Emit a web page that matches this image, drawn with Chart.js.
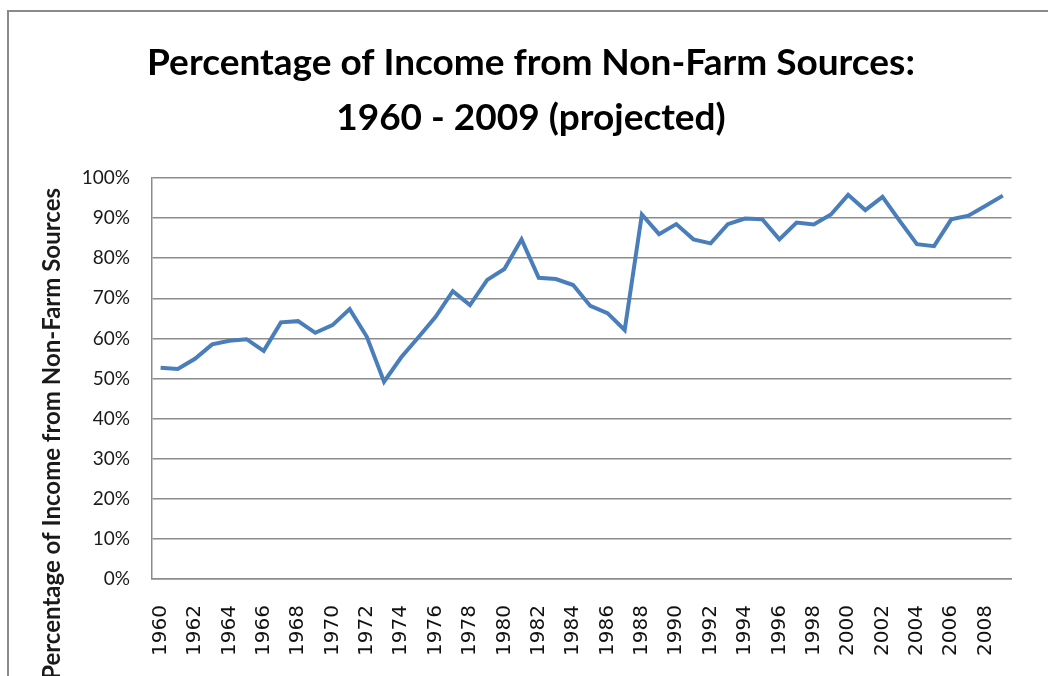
<!DOCTYPE html>
<html>
<head>
<meta charset="utf-8">
<script src="https://cdn.jsdelivr.net/npm/chart.js@4.4.0/dist/chart.umd.min.js"></script>
<style>
  html, body { margin: 0; padding: 0; background: #fff; overflow: hidden; width: 1048px; height: 676px; }
  #frame { position: absolute; left: 7px; top: 10px; width: 1044px; height: 680px; border: 2px solid #8a8a8a; }
  #chart { display: block; }
</style>
</head>
<body>
<div id="frame"><canvas id="chart" width="1044" height="680"></canvas></div>
<script>
// years on the x axis (only every other one gets a label)
const years = ['1960', '1961', '1962', '1963', '1964', '1965', '1966', '1967', '1968', '1969',
  '1970', '1971', '1972', '1973', '1974', '1975', '1976', '1977', '1978', '1979',
  '1980', '1981', '1982', '1983', '1984', '1985', '1986', '1987', '1988', '1989',
  '1990', '1991', '1992', '1993', '1994', '1995', '1996', '1997', '1998', '1999',
  '2000', '2001', '2002', '2003', '2004', '2005', '2006', '2007', '2008', '2009'];

// % of income from non-farm sources
const nonFarmPct = [52.7, 52.4, 54.9, 58.5, 59.4, 59.8, 56.9, 64.0, 64.3, 61.4,
  63.3, 67.3, 60.4, 49.2, 55.3, 60.3, 65.4, 71.8, 68.3, 74.6,
  77.3, 84.7, 75.1, 74.8, 73.3, 68.1, 66.3, 62.1, 90.9, 86.0,
  88.5, 84.7, 83.7, 88.5, 89.9, 89.7, 84.7, 88.9, 88.4, 90.9,
  95.8, 92.0, 95.3, 89.3, 83.5, 83.0, 89.7, 90.6, 93.1, 95.6];

const yTickLabels = ['0%', '10%', '20%', '30%', '40%', '50%', '60%', '70%', '80%', '90%', '100%'];

const titleLines = ['Percentage of Income from Non-Farm Sources:', '1960 - 2009 (projected)'];
const yAxisTitle = 'Percentage of Income from Non-Farm Sources';

const gridGray = '#8c8c8c';

// y axis title drawn by hand so it can sit off-centre like the original
const yTitlePlugin = {
  id: 'yTitle',
  afterDraw(chart) {
    const c = chart.ctx;
    c.save();
    c.translate(51, 176);
    c.rotate(-Math.PI / 2);
    c.font = 'bold 24px Lato';
    c.fillStyle = '#1a1a1a';
    c.textAlign = 'right';
    c.textBaseline = 'alphabetic';
    c.fillText(yAxisTitle, 0, 0);
    c.restore();
  }
};

const ctx = document.getElementById('chart');
const lineChart = new Chart(ctx, {
  type: 'line',
  data: {
    labels: years,
    datasets: [{
      label: 'Non-farm income',
      data: nonFarmPct,
      borderColor: '#4a7ebb',
      borderWidth: 4,
      pointRadius: 0,
      tension: 0,
      fill: false
    }]
  },
  options: {
    responsive: false,
    animation: false,
    // left padding keeps the title centred where the original has it
    layout: { padding: { left: 17, right: 17, top: 0, bottom: 0 } },
    plugins: {
      legend: { display: false },
      tooltip: { enabled: false },
      title: {
        display: true,
        text: titleLines,
        color: '#000',
        font: { family: 'Lato', size: 37, weight: 'bold', lineHeight: 1.5 },
        padding: { top: 23, bottom: 32 }
      }
    },
    scales: {
      x: {
        offset: true,
        afterFit(scale) { scale.height = 113; },
        grid: { display: false, drawTicks: false },
        border: { display: true, color: gridGray, width: 1.5 },
        ticks: {
          autoSkip: false,
          maxRotation: 90,
          minRotation: 90,
          padding: 26,
          color: '#111',
          font: { family: 'DejaVu Sans', size: 20 },
          callback: (v, i) => (i % 2 === 0 ? years[i] : '')
        }
      },
      y: {
        min: 0,
        max: 100,
        afterFit(scale) { scale.width = 126; },
        grid: { color: gridGray, lineWidth: 1.5, drawTicks: false },
        border: { display: true, color: gridGray, width: 1.5 },
        ticks: {
          stepSize: 10,
          padding: 22,
          color: '#1a1a1a',
          font: { family: 'Lato', size: 19 },
          callback: (v) => yTickLabels[Math.round(v / 10)]
        }
      }
    }
  },
  plugins: [yTitlePlugin]
});
</script>
</body>
</html>
